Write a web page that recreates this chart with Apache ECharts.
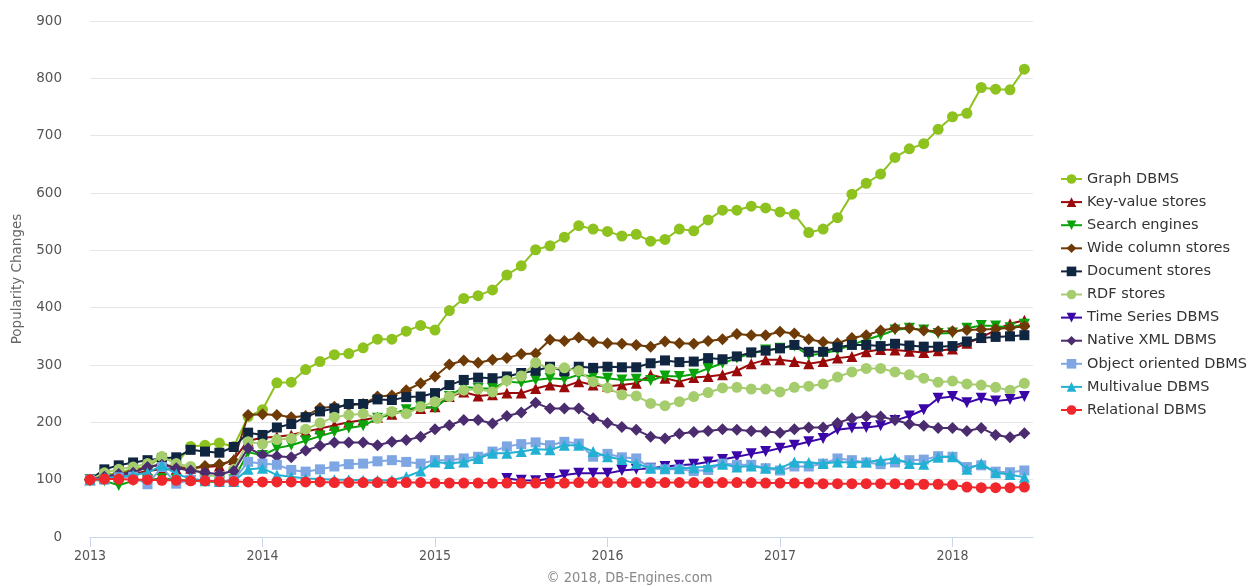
<!DOCTYPE html>
<html>
<head>
<meta charset="utf-8">
<style>html,body{margin:0;padding:0;background:#fff;}#c{width:1259px;height:587px;}</style>
<script src="https://cdn.jsdelivr.net/npm/echarts@6/dist/echarts.min.js"></script>
</head>
<body>
<div id="c"></div>
<script>
// Monthly values, Jan 2013 (index 0) .. Jun 2018 (index 65)
const yearLabels = ['2013', '2014', '2015', '2016', '2017', '2018'];
const seriesNames = ['Graph DBMS', 'Key-value stores', 'Search engines', 'Wide column stores', 'Document stores', 'RDF stores', 'Time Series DBMS', 'Native XML DBMS', 'Object oriented DBMS', 'Multivalue DBMS', 'Relational DBMS'];

const graphDBMS = [100,108,112,118,122,140,128,158,160,164,158,210, 222,269,270,292,306,318,320,330,345,345,359,369, 361,395,416,421,431,457,473,501,508,523,543,537, 533,525,528,516,519,537,534,553,570,570,577,574, 567,563,531,537,557,598,617,633,662,677,686,711, 733,739,784,781,780,816];
const keyValue = [100,103,106,110,115,118,118,120,122,124,135,168, 173,175,178,184,189,195,200,204,209,214,222,224, 227,245,253,246,248,251,251,259,265,262,271,265, 263,265,268,283,277,271,278,280,283,290,302,309, 309,306,302,306,312,315,323,327,326,324,322,325, 328,338,348,361,372,378];
const searchEngines = [100,98,90,98,100,102,100,98,97,96,100,148, 142,155,160,168,176,183,190,194,207,215,222,227, 225,245,262,259,259,271,269,274,277,275,283,280, 277,274,275,273,281,280,284,294,303,312,320,326, 329,333,317,320,326,335,344,352,361,364,361,355, 356,364,369,368,365,371];
const wideColumn = [100,104,110,115,122,127,122,120,124,127,133,213, 214,213,209,211,225,227,230,232,245,247,256,268, 280,301,308,304,309,312,319,320,344,342,348,340, 338,337,335,332,341,338,337,342,345,354,352,352, 358,355,345,340,338,347,352,360,364,364,360,359, 359,361,362,363,365,367];
const documentStores = [100,118,125,130,134,137,139,152,149,147,157,182, 178,191,197,209,219,224,232,232,240,239,244,245, 251,265,274,278,277,280,286,290,297,289,297,295, 297,296,296,303,308,305,306,312,310,315,322,325, 329,335,323,323,331,335,335,333,337,334,332,332, 333,341,347,349,350,352];
const rdfStores = [100,112,118,122,128,140,128,123,108,106,118,166, 162,170,172,188,199,209,213,215,207,219,215,227, 236,245,256,258,253,273,281,304,293,295,290,271, 260,248,246,233,229,236,245,252,260,261,258,258, 253,261,263,267,279,288,294,294,288,283,277,270, 272,267,265,261,256,268];
const timeSeries = [null,null,null,null,null,null,null,null,null,null,null,null, null,null,null,null,null,null,null,null,null,null,null,null, null,null,null,null,null,102,99,98,102,108,111,111, 111,116,118,120,123,125,127,131,135,140,145,149, 155,160,166,172,187,190,191,194,203,211,222,242, 245,234,242,237,240,245];
const nativeXML = [100,105,110,112,122,126,120,116,112,110,115,155, 143,141,139,151,159,165,165,165,160,166,169,175, 188,195,204,204,198,211,217,234,224,224,224,207, 199,192,187,175,172,180,183,185,188,187,185,184, 182,188,191,191,199,207,210,210,204,197,194,190, 190,185,190,178,174,181];
const objectOriented = [100,100,104,105,92,122,93,100,98,97,99,131, 128,126,117,114,118,123,127,128,132,134,131,128, 134,134,137,140,149,158,162,165,160,166,163,140, 145,139,137,120,118,118,115,117,128,126,126,120, 116,123,123,128,137,134,130,127,130,134,135,141, 140,122,125,114,113,116];
const multivalue = [100,103,105,108,112,125,110,102,98,97,97,118, 120,108,105,102,101,100,100,99,99,99,105,115, 131,128,131,137,146,146,149,153,152,160,160,149, 140,135,128,120,120,120,121,123,127,122,124,120, 120,131,130,128,131,130,131,134,137,128,127,139, 140,118,128,112,109,104];
const relational = [100,101,101,100,100,99,99,98,98,97,97,96, 96,96,96,96,96,95,95,95,95,95,95,95, 94,94,94,94,94,94,94,94,94,94,95,95, 95,95,95,95,95,95,95,95,95,95,95,94, 94,94,94,93,93,93,93,93,93,92,92,92, 91,87,86,86,86,87];

const valueArrays = [graphDBMS, keyValue, searchEngines, wideColumn, documentStores, rdfStores, timeSeries, nativeXML, objectOriented, multivalue, relational];
const colors = ['#8dc21f', '#9b0a0a', '#0aa40a', '#6e3a06', '#10253f', '#a5cd6e', '#3a06a8', '#4b2c6f', '#7da6e3', '#23b1d3', '#f0282d'];
const symbols = ['circle', 'triangle', 'triangle', 'diamond', 'rect', 'circle', 'triangle', 'diamond', 'rect', 'triangle', 'circle'];
const rotations = [0, 0, 180, 0, 0, 0, 180, 0, 0, 0, 0];
const sizes = [11, 11, 11, 12, 10, 11, 11, 12, 10, 11, 11];

const series = seriesNames.map((name, k) => ({
  name: name,
  type: 'line',
  data: valueArrays[k].map((v, i) => [i, v]).filter(p => p[1] !== null),
  symbol: symbols[k],
  symbolRotate: rotations[k],
  symbolSize: sizes[k],
  showAllSymbol: true,
  itemStyle: { color: colors[k] },
  lineStyle: { color: colors[k], width: 2 },
  z: 2 + k,
  emphasis: { disabled: true }
}));

const chart = echarts.init(document.getElementById('c'), null, { renderer: 'canvas' });
chart.setOption({
  animation: false,
  backgroundColor: '#ffffff',
  grid: { left: 90, right: 226, top: 21, bottom: 50, containLabel: false },
  legend: {
    orient: 'vertical',
    left: 1055,
    top: 166.5,
    itemWidth: 21,
    itemHeight: 12,
    itemGap: 8.1,
    textStyle: { color: '#333333', fontSize: 14.5, fontFamily: 'DejaVu Sans' },
    data: seriesNames
  },
  xAxis: {
    type: 'value',
    min: 0,
    max: 65.6,
    interval: 12,
    splitLine: { show: false },
    axisLine: { show: true, lineStyle: { color: '#ccd6eb', width: 1 } },
    axisTick: { show: true, length: 10, lineStyle: { color: '#ccd6eb' }, customValues: [0, 12, 24, 36, 48, 60] },
    axisLabel: {
      customValues: [0, 12, 24, 36, 48, 60],
      formatter: v => yearLabels[Math.round(v / 12)] || '',
      color: '#555555',
      fontSize: 14,
      fontFamily: 'DejaVu Sans Condensed',
      margin: 12
    }
  },
  yAxis: {
    type: 'value',
    min: 0,
    max: 900,
    interval: 100,
    name: 'Popularity Changes',
    nameLocation: 'middle',
    nameRotate: 90,
    nameGap: 66,
    nameTextStyle: { color: '#666666', fontSize: 13.5, fontFamily: 'DejaVu Sans' },
    axisLine: { show: false },
    axisTick: { show: false },
    splitLine: { lineStyle: { color: '#e6e6e6', width: 1 } },
    axisLabel: { color: '#555555', fontSize: 13.5, fontFamily: 'DejaVu Sans', margin: 28 }
  },
  graphic: [{
    type: 'text',
    left: 'center',
    top: 571,
    style: { text: '\u00a9 2018, DB-Engines.com', fill: '#888888', font: '14.5px "DejaVu Sans Condensed"' }
  }],
  series: series
});
</script>
</body>
</html>
